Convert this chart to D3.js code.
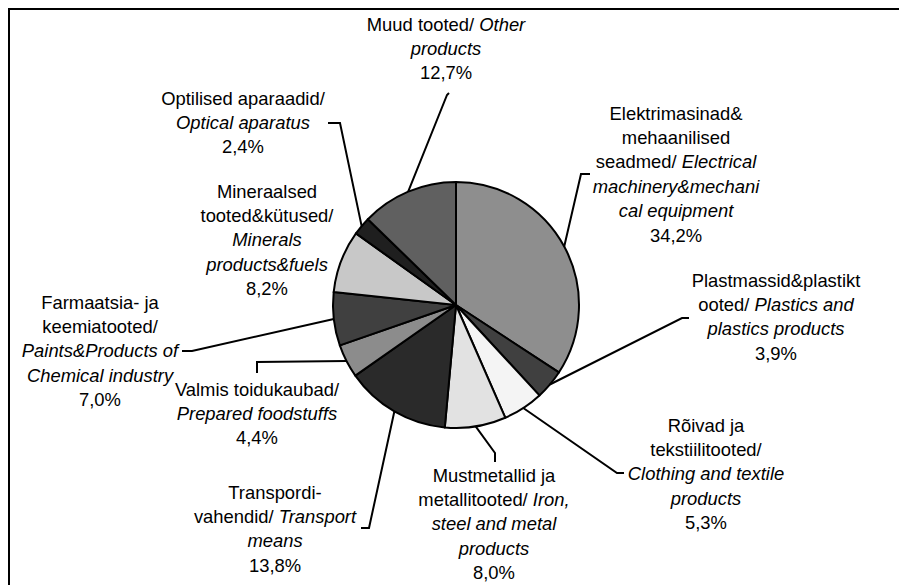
<!DOCTYPE html>
<html><head><meta charset="utf-8">
<script src="https://cdn.jsdelivr.net/npm/d3@7"></script>
<style>html,body{margin:0;padding:0;background:#fff;}svg{display:block;}</style>
</head><body>
<script>
// ---- data ----
const categories = ["Elektrimasinad& mehaanilised seadmed", "Plastmassid&plastiktooted", "Rõivad ja tekstiilitooted", "Mustmetallid ja metallitooted", "Transpordivahendid", "Valmis toidukaubad", "Farmaatsia- ja keemiatooted", "Mineraalsed tooted&kütused", "Optilised aparaadid", "Muud tooted"];
const values = [34.2, 3.9, 5.3, 8.0, 13.8, 4.4, 7.0, 8.2, 2.4, 12.7];
const valueLabels = ["34,2%", "3,9%", "5,3%", "8,0%", "13,8%", "4,4%", "7,0%", "8,2%", "2,4%", "12,7%"];
// label text lines: each line is list of [text, italic]
const labelLines = [
  [[["Elektrimasinad&",0]],[["mehaanilised",0]],[["seadmed/ ",0],["Electrical",1]],[["machinery&mechani",1]],[["cal equipment",1]]],
  [[["Plastmassid&plastikt",0]],[["ooted/ ",0],["Plastics and",1]],[["plastics products",1]]],
  [[["Rõivad ja",0]],[["tekstiilitooted/",0]],[["Clothing and textile",1]],[["products",1]]],
  [[["Mustmetallid ja",0]],[["metallitooted/ ",0],["Iron,",1]],[["steel and metal",1]],[["products",1]]],
  [[["Transpordi-",0]],[["vahendid/ ",0],["Transport",1]],[["means",1]]],
  [[["Valmis toidukaubad/",0]],[["Prepared foodstuffs",1]]],
  [[["Farmaatsia- ja",0]],[["keemiatooted/",0]],[["Paints&Products of",1]],[["Chemical industry",1]]],
  [[["Mineraalsed",0]],[["tooted&kütused/",0]],[["Minerals",1]],[["products&fuels",1]]],
  [[["Optilised aparaadid/",0]],[["Optical aparatus",1]]],
  [[["Muud tooted/ ",0],["Other",1]],[["products",1]]]
];

// ---- styles / layout ----
const W = 899, H = 585;
const cx = 456, cy = 305, R = 123;
const fills = ["#8e8e8e", "#404040", "#f4f4f4", "#e2e2e2", "#2a2a2a", "#8c8c8c", "#404040", "#c8c8c8", "#1f1f1f", "#606060"];
// label block: centre x, centre y of first line
const labelPos = [[676,113],[776,280],[706,425],[494,475],[275,492],[257,389],[100,302],[267,191],[243,98],[446,24]];
// leader line extra points (after arc point); null = no leader
const leaderPts = [
  [[581,174],[590,174]],
  [[682,318],[689,318]],
  [[617,473],[624,473]],
  [[495,453],[495,462]],
  [[369,528],[361,528]],
  [[257,362],[257,373]],
  [[192,351],[182,351]],
  null,
  [[340,123],[328,123]],
  [[447,95],[449,93]]
];
const lineH = 24.4;

const svg = d3.select("body").append("svg").attr("width", W).attr("height", H);
svg.append("rect").attr("x",0).attr("y",0).attr("width",W).attr("height",H).attr("fill","#fff");
// frame (right/bottom edges off-canvas)
svg.append("rect").attr("x",9).attr("y",9).attr("width",W+20).attr("height",H+20)
  .attr("fill","none").attr("stroke","#000").attr("stroke-width",2);

const pie = d3.pie().sort(null).value(d => d)(values);
const arc = d3.arc().innerRadius(0).outerRadius(R);
const g = svg.append("g").attr("transform", `translate(${cx},${cy})`);
g.selectAll("path.slice").data(pie).join("path").attr("class","slice")
  .attr("d", arc).attr("fill", (d,i) => fills[i])
  .attr("stroke","#000").attr("stroke-width",2).attr("stroke-linejoin","round");

// leaders
pie.forEach((d,i) => {
  if (!leaderPts[i]) return;
  const a = (d.startAngle + d.endAngle)/2;
  const p0 = [cx + R*Math.sin(a), cy - R*Math.cos(a)];
  const pts = [p0].concat(leaderPts[i]);
  svg.append("path").attr("d", d3.line()(pts)).attr("fill","none")
    .attr("stroke","#000").attr("stroke-width",2);
});

// labels
labelLines.forEach((lines, i) => {
  const all = lines.concat([[[valueLabels[i],0]]]);
  const [lx, ly] = labelPos[i];
  all.forEach((segs, j) => {
    const t = svg.append("text").attr("x", lx).attr("y", ly + j*lineH + 6.5)
      .attr("text-anchor","middle")
      .attr("font-family","'Liberation Sans', Arial, sans-serif")
      .attr("font-size", 18.4).attr("fill","#000");
    segs.forEach(s => {
      t.append("tspan").text(s[0]).attr("font-style", s[1] ? "italic" : "normal");
    });
  });
});
</script>
</body></html>
